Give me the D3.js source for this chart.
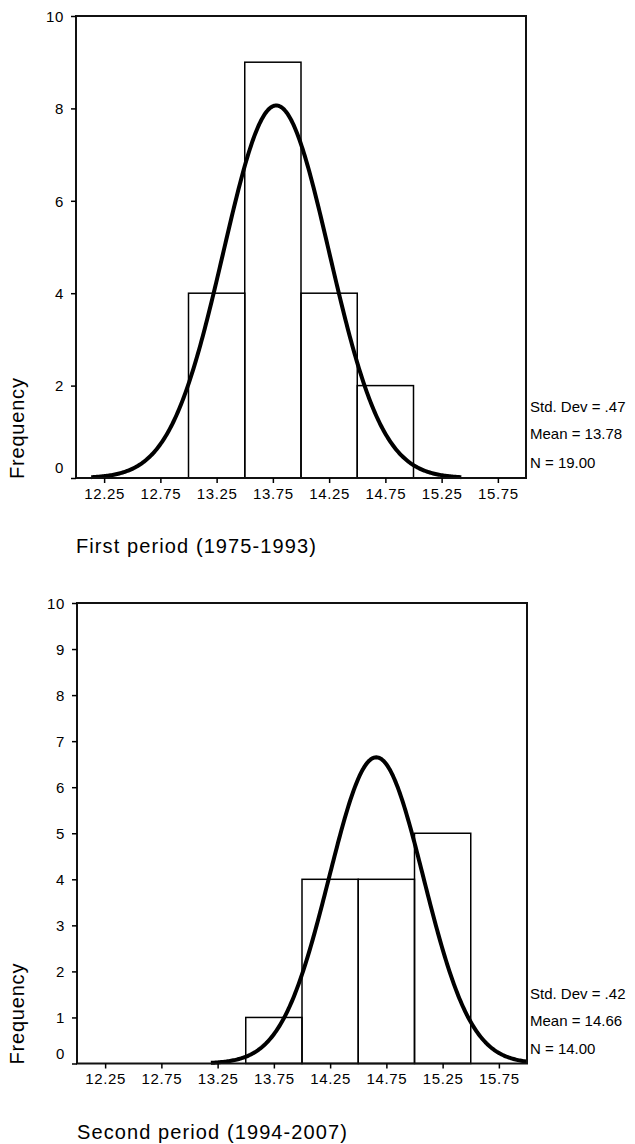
<!DOCTYPE html>
<html>
<head>
<meta charset="utf-8">
<script src="https://cdn.jsdelivr.net/npm/d3@7"></script>
<style>
    body { margin: 0; background: #fff; }
    svg text { font-family: "Liberation Sans", Arial, sans-serif; fill: #000; }
    .tick-label { font-size: 15px; letter-spacing: 0.6px; }
    .stat-label { font-size: 15px; }
    .title { font-size: 20px; letter-spacing: 1.1px; }
    .ylab { font-size: 20px; letter-spacing: 0.8px; }
</style>
</head>
<body>
<div id="chart"></div>
<script>
const width = 635
const height = 1144

// histogram bins (lower edge) and counts
const binWidth = 0.5
const firstBins = [13.0, 13.5, 14.0, 14.5]
const firstCounts = [4, 9, 4, 2]
const secondBins = [13.5, 14.0, 14.5, 15.0]
const secondCounts = [1, 4, 4, 5]

// summary stats shown at the right of each panel
const firstStats = [0.47, 13.78, 19]   // sd, mean, n
const secondStats = [0.42, 14.66, 14]
const firstStatLabels = ["Std. Dev = .47", "Mean = 13.78", "N = 19.00"]
const secondStatLabels = ["Std. Dev = .42", "Mean = 14.66", "N = 14.00"]

const xTicks = [12.25, 12.75, 13.25, 13.75, 14.25, 14.75, 15.25, 15.75]
const firstYTicks = [0, 2, 4, 6, 8, 10]
const secondYTicks = [0, 1, 2, 3, 4, 5, 6, 7, 8, 9, 10]

const svg = d3.select("#chart")
    .append("svg")
    .attr("width", width)
    .attr("height", height)

function normalPdf(x, mean, sd) {
    return Math.exp(-0.5 * ((x - mean) / sd) ** 2) / (sd * Math.sqrt(2 * Math.PI))
}

function drawPanel(box, bins, counts, yTicks, stats, statLabels, title, statY, titleY) {
    const x = d3.scaleLinear().domain([12, 16]).range([box.left, box.right])
    const y = d3.scaleLinear().domain([0, 10]).range([box.bottom, box.top])
    const g = svg.append("g")

    // bars
    g.selectAll(".bar")
        .data(bins.map((b, i) => ({ x0: b, count: counts[i] })))
        .join("rect")
        .attr("class", "bar")
        .attr("x", d => x(d.x0))
        .attr("y", d => y(d.count))
        .attr("width", d => x(d.x0 + binWidth) - x(d.x0))
        .attr("height", d => y(0) - y(d.count))
        .attr("fill", "none")
        .attr("stroke", "#000")
        .attr("stroke-width", 1.5)

    // fitted normal curve
    const [sd, mean, n] = stats
    const lo = mean - 3.5 * sd
    const hi = Math.min(mean + 3.5 * sd, 16)
    const curve = d3.range(lo, hi, 0.01).concat([hi])
        .map(v => ({ x: v, y: n * binWidth * normalPdf(v, mean, sd) }))
    g.append("path")
        .datum(curve)
        .attr("fill", "none")
        .attr("stroke", "#000")
        .attr("stroke-width", 4)
        .attr("stroke-linejoin", "round")
        .attr("d", d3.line().x(d => x(d.x)).y(d => y(d.y)))

    // frame
    g.append("rect")
        .attr("x", box.left)
        .attr("y", box.top)
        .attr("width", box.right - box.left)
        .attr("height", box.bottom - box.top)
        .attr("fill", "none")
        .attr("stroke", "#111")
        .attr("stroke-width", 2)

    // y axis
    const yAxis = g.append("g")
        .attr("transform", `translate(${box.left},0)`)
        .call(d3.axisLeft(y).tickValues(yTicks).tickSize(5).tickPadding(7).tickFormat(d3.format("d")))
    yAxis.select(".domain").remove()
    yAxis.selectAll(".tick line").attr("stroke", "#000").attr("stroke-width", 1.5)
    yAxis.selectAll(".tick text")
        .attr("class", "tick-label")
        .attr("font-size", null)
        .attr("font-family", null)
        .attr("dy", d => d === 0 ? "-0.35em" : "0.35em")

    // x axis
    const xAxis = g.append("g")
        .attr("transform", `translate(0,${box.bottom})`)
        .call(d3.axisBottom(x).tickValues(xTicks).tickSize(5).tickPadding(5).tickFormat(d3.format(".2f")))
    xAxis.select(".domain").remove()
    xAxis.selectAll(".tick line").attr("stroke", "#000").attr("stroke-width", 1.5)
    xAxis.selectAll(".tick text")
        .attr("class", "tick-label")
        .attr("font-size", null)
        .attr("font-family", null)

    // Frequency label, anchored at the bottom of the plot
    g.append("text")
        .attr("class", "ylab")
        .attr("transform", `translate(17,${box.bottom + 1}) rotate(-90)`)
        .attr("text-anchor", "start")
        .attr("dominant-baseline", "central")
        .text("Frequency")

    // stats
    g.selectAll(".stat-label")
        .data(statLabels)
        .join("text")
        .attr("class", "stat-label")
        .attr("x", 530)
        .attr("y", (d, i) => statY[i])
        .attr("dominant-baseline", "central")
        .text(d => d)

    g.append("text")
        .attr("class", "title")
        .attr("x", box.left)
        .attr("y", titleY)
        .attr("dominant-baseline", "central")
        .text(title)
}

drawPanel({ left: 76, right: 526, top: 16, bottom: 478 },
    firstBins, firstCounts, firstYTicks, firstStats, firstStatLabels,
    "First period (1975-1993)", [406, 433, 462], 546)

drawPanel({ left: 77, right: 527, top: 603, bottom: 1063.5 },
    secondBins, secondCounts, secondYTicks, secondStats, secondStatLabels,
    "Second period (1994-2007)", [993, 1020, 1048], 1132)
</script>
</body>
</html>
